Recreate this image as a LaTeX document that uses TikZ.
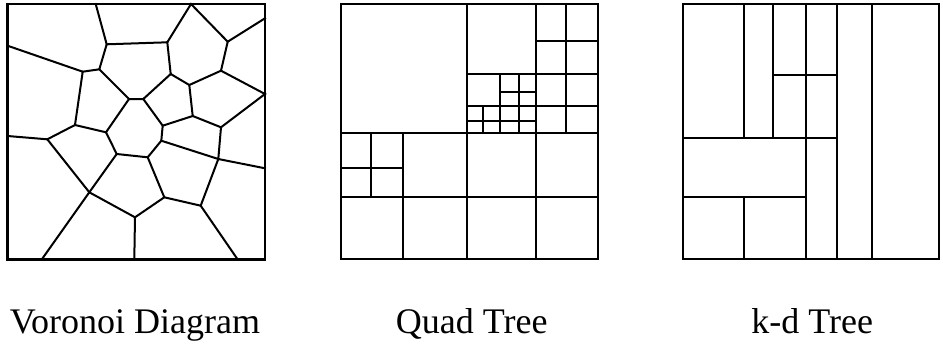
\documentclass[tikz,border=0pt]{standalone}
\usepackage{fontspec}
\setmainfont{Liberation Serif}
\begin{document}
\begin{tikzpicture}[x=1pt,y=-1pt,line cap=rect,line join=miter]
\tikzset{edge/.style={line width=2pt,black},
  frame/.style={line width=2.2pt,black},
  caption/.style={anchor=base,font=\fontsize{36}{40}\selectfont,inner sep=0pt}}
\useasboundingbox (0,0) rectangle (943,343);
% ---------------- Voronoi ----------------
\coordinate (t1) at (95.7,4); \coordinate (t2) at (191,4);
\coordinate (r1) at (265,18.3); \coordinate (r2) at (265,94); \coordinate (r3) at (265,168.3);
\coordinate (b1) at (237.7,259.5); \coordinate (b2) at (134.3,259.5); \coordinate (b3) at (41.7,259.5);
\coordinate (l1) at (7.5,136); \coordinate (l2) at (7.5,45.7);
\coordinate (a) at (106.7,44.3); \coordinate (b) at (167.3,42.3);
\coordinate (c) at (227.7,41.7); \coordinate (d) at (221,70.7);
\coordinate (e) at (189.3,85); \coordinate (f) at (170.7,74);
\coordinate (g) at (143.3,99); \coordinate (h) at (192.7,116);
\coordinate (i) at (162.7,125.7); \coordinate (j) at (221,127.3);
\coordinate (k) at (218.3,159); \coordinate (m) at (161.3,140.7);
\coordinate (n) at (200.7,205.7); \coordinate (o) at (164.3,197.3);
\coordinate (p) at (147.7,157.3); \coordinate (q) at (135,217.3);
\coordinate (r) at (89.3,192.3); \coordinate (s) at (116.7,154);
\coordinate (u) at (47.3,139.3); \coordinate (v) at (75,125);
\coordinate (w) at (82.7,71.7); \coordinate (x) at (106,132.3);
\coordinate (y) at (99.3,69.3); \coordinate (z) at (129,99);
\draw[edge] (t1)--(a)--(b)--(t2)--(c)--(r1);
\draw[edge] (c)--(d)--(e)--(f)--(b);
\draw[edge] (d)--(r2)--(j)--(h)--(e);
\draw[edge] (f)--(g)--(z)--(y)--(a);
\draw[edge] (h)--(i)--(g);
\draw[edge] (i)--(m)--(k)--(j);
\draw[edge] (k)--(r3);
\draw[edge] (k)--(n)--(b1);
\draw[edge] (n)--(o)--(p)--(m);
\draw[edge] (o)--(q)--(b2);
\draw[edge] (q)--(r)--(b3);
\draw[edge] (r)--(s)--(p);
\draw[edge] (r)--(u)--(l1);
\draw[edge] (u)--(v)--(w)--(l2);
\draw[edge] (w)--(y);
\draw[edge] (v)--(x)--(s);
\draw[edge] (x)--(z);
\draw[frame] (7.5,4) rectangle (265,259.5);
% ---------------- Quad tree ----------------
\draw[edge] (467.3,4)--(467.3,259);
\draw[edge] (341,133.3)--(598,133.3);
\draw[edge] (341,197.3)--(598,197.3);
\draw[edge] (402.7,133.3)--(402.7,259);
\draw[edge] (536,4)--(536,259);
\draw[edge] (467.3,74)--(598,74);
\draw[edge] (565.7,4)--(565.7,133.3);
\draw[edge] (536,41)--(598,41);
\draw[edge] (467.3,106)--(598,106);
\draw[edge] (500,74)--(500,133.3);
\draw[edge] (519,74)--(519,133.3);
\draw[edge] (500,91.7)--(536,91.7);
\draw[edge] (467.3,120.7)--(536,120.7);
\draw[edge] (483.3,106)--(483.3,133.3);
\draw[edge] (371,133.3)--(371,197.3);
\draw[edge] (341,168.3)--(402.7,168.3);
\draw[frame] (341,4) rectangle (598,259);
% ---------------- k-d tree ----------------
\draw[edge] (744,4)--(744,138.3);
\draw[edge] (744,197.3)--(744,259);
\draw[edge] (772.7,4)--(772.7,138.3);
\draw[edge] (805.7,4)--(805.7,259);
\draw[edge] (836.7,4)--(836.7,259);
\draw[edge] (871.7,4)--(871.7,259);
\draw[edge] (772.7,75)--(836.7,75);
\draw[edge] (683.3,138.3)--(836.7,138.3);
\draw[edge] (683.3,197.3)--(805.7,197.3);
\draw[frame] (683.3,4) rectangle (939.3,259);
% ---------------- captions ----------------
\node[caption] (cv) at (135,333) {Voronoi Diagram};
\node[caption] (cq) at (471.7,333) {Quad Tree};
\node[caption] (ck) at (812.3,333) {k-d Tree};
\end{tikzpicture}
\end{document}
